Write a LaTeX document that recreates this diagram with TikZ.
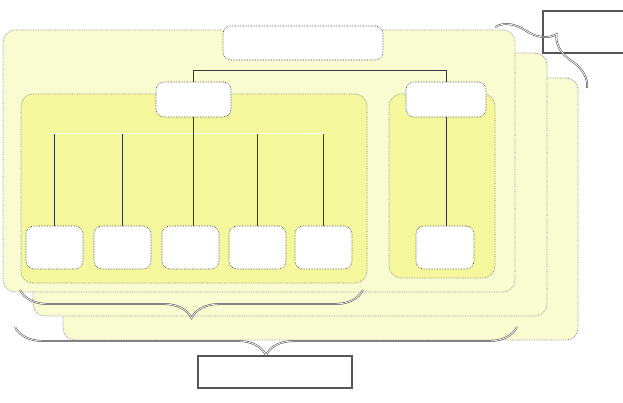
\documentclass[tikz,border=0pt]{standalone}
\usetikzlibrary{decorations.pathreplacing,calc}
\definecolor{outerfill}{RGB}{249,251,208}
\definecolor{innerfill}{RGB}{244,247,155}
\definecolor{edgegray}{RGB}{140,140,140}
\definecolor{linegray}{RGB}{55,55,55}
\begin{document}
\begin{tikzpicture}[x=1pt,y=-1pt,
  panel/.style={draw=edgegray,densely dotted,line width=0.7pt,fill=outerfill,rounded corners=12pt,inner sep=0pt,outer sep=0pt},
  grp/.style={draw=edgegray,densely dotted,line width=0.7pt,fill=innerfill,rounded corners=12pt,inner sep=0pt,outer sep=0pt},
  wbox/.style={draw=linegray,densely dotted,line width=0.6pt,fill=white,rounded corners=8pt,inner sep=0pt,outer sep=0pt},
  sbox/.style={draw=linegray!85,line width=1.3pt,fill=white,inner sep=0pt,outer sep=0pt},
  conn/.style={draw=linegray,line width=1pt},
  brc/.style={decorate,decoration={brace,amplitude=28pt},draw=black!75,line width=0.5pt,double=white,double distance=0.8pt}]
\clip (0,0) rectangle (623,403);
\fill[white] (0,0) rectangle (623,403);
% stacked panels
\node[panel,minimum width=515pt,minimum height=262pt] (p3) at (320.5,209) {};
\node[panel,minimum width=514pt,minimum height=263pt] (p2) at (290,184.5) {};
\node[panel,minimum width=512pt,minimum height=262pt] (p1) at (259,161) {};
% groups
\node[grp,minimum width=346pt,minimum height=189pt] (gl) at (194,188.5) {};
\node[grp,minimum width=106pt,minimum height=184pt] (gr) at (442,186) {};
% header boxes
\node[wbox,minimum width=160pt,minimum height=34pt] (top) at (303,43) {};
\node[wbox,minimum width=75pt,minimum height=35pt] (lh) at (193.5,99.5) {};
\node[wbox,minimum width=80pt,minimum height=35pt] (rh) at (446,99.5) {};
% leaf boxes
\node[wbox,minimum width=57pt,minimum height=43pt] (b1) at (54.5,247.5) {};
\node[wbox,minimum width=57pt,minimum height=43pt] (b2) at (122.5,247.5) {};
\node[wbox,minimum width=57pt,minimum height=43pt] (b3) at (190.5,247.5) {};
\node[wbox,minimum width=57pt,minimum height=43pt] (b4) at (257.5,247.5) {};
\node[wbox,minimum width=57pt,minimum height=43pt] (b5) at (323.5,247.5) {};
\node[wbox,minimum width=58pt,minimum height=43pt] (b6) at (445,247.5) {};
% connectors
\coordinate (jt) at (446,71);
\draw[conn] (lh.north) |- (jt) -- (rh.north);
\coordinate (bus) at (50,134);
\coordinate (busR) at (324,134);
\draw[white,line width=1pt] (bus) -- (busR);
\draw[conn] (lh.south) -- (lh.south |- b3.north);
\draw[conn] (b1.north |- bus) -- (b1.north);
\draw[conn] (b2.north |- bus) -- (b2.north);
\draw[conn] (b4.north |- bus) -- (b4.north);
\draw[conn] (b5.north |- bus) -- (b5.north);
\draw[conn] (rh.south) -- (rh.south |- b6.north);
% braces
\coordinate (br1a) at (363,290);
\coordinate (br1b) at (20,290);
\coordinate (br2a) at (517,327);
\coordinate (br2b) at (15,327);
\coordinate (br3a) at (495,27);
\coordinate (br3b) at (587,88);
\draw[brc] (br1a) -- (br1b);
\draw[brc] (br2a) -- (br2b);
% label boxes
\node[sbox,minimum width=154pt,minimum height=32pt] (bot) at (275,372) {};
\node[sbox,minimum width=87pt,minimum height=42pt] (tr) at (586.5,32) {};
\draw[brc] (br3a) -- (br3b);
\end{tikzpicture}
\end{document}
